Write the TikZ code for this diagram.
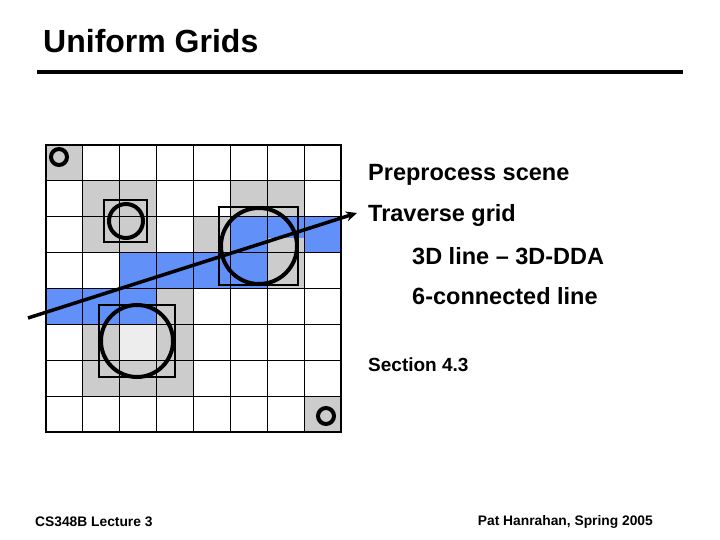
\documentclass[tikz,border=0pt]{standalone}
\usepackage{fontspec}
\setmainfont{Liberation Sans}
\usetikzlibrary{arrows.meta}
\definecolor{rayblue}{RGB}{96,144,248}
\begin{document}
\begin{tikzpicture}[x=1pt,y=-1pt,
  txt/.style={anchor=west,inner sep=0pt,font=\bfseries\fontsize{23.5}{27}\selectfont},
  gcell/.style={fill=black!20},
  bcell/.style={fill=rayblue},
  obj/.style={line width=4pt},
  bbox/.style={line width=2.5pt}]
\useasboundingbox (0,0) rectangle (720,540);
\def\cw{36.9}\def\ch{35.9}
\def\cell#1#2#3{\fill[#3] ({46+#1*\cw},{145+#2*\ch}) rectangle ++(\cw,\ch);}
% gray cells
\foreach \c/\r in {0/0,1/1,2/1,5/1,6/1,1/2,2/2,4/2,6/3,3/4,1/5,3/5,1/6,2/6,3/6,7/7}{\cell{\c}{\r}{gcell}}
\cell{2}{5}{fill=black!7}
\cell{6}{2}{gcell}
% blue cells
\foreach \c/\r in {5/2,7/2,2/3,3/3,4/3,5/3,0/4,1/4,2/4}{\cell{\c}{\r}{bcell}}
\fill[bcell] ({46+6*\cw},{145+2*\ch}) rectangle ++(\cw,0.6*\ch);
% grid
\foreach \i in {1,...,7}{
  \draw[line width=0.9pt] ({46+\i*\cw},145) -- ({46+\i*\cw},432.2);
  \draw[line width=0.9pt] (46,{145+\i*\ch}) -- (341.2,{145+\i*\ch});
}
\draw[line width=2.5pt] (46,145) rectangle (341.2,432.2);
% objects
\draw[obj] (59,157) circle (8);
\draw[obj] (326,416) circle (8);
\draw[bbox] (104,200) rectangle (147,242);
\draw[obj] (126,221) circle (17);
\draw[bbox] (219,207) rectangle (298,285);
\draw[obj] (259,246) circle (38);
\draw[bbox] (99,305) rectangle (175,377);
\draw[obj] (137,341) circle (36);
% ray
\coordinate (r0) at (28,318);
\coordinate (r1) at (357,213);
\draw[line width=3.5pt,-{Stealth[length=11pt,width=10pt]}] (r0) -- (r1);
% title
\node[anchor=west,inner sep=0pt,font=\bfseries\fontsize{32}{36}\selectfont] (title) at (43,41) {Uniform Grids};
\draw[line width=4pt] (37,72) -- (683,72);
\node[txt] (t1) at (368,175) {Preprocess scene};
\node[txt] (t2) at (368,215) {Traverse grid};
\node[txt] (t3) at (412,256) {3D line – 3D-DDA};
\node[txt] (t4) at (412,296) {6-connected line};
\node[txt,font=\bfseries\fontsize{19}{22}\selectfont] (t5) at (368,365) {Section 4.3};
\node[anchor=west,inner sep=0pt,font=\bfseries\fontsize{13.8}{16}\selectfont] (f1) at (35,522) {CS348B Lecture 3};
\node[anchor=east,inner sep=0pt,font=\bfseries\fontsize{13.8}{16}\selectfont] (f2) at (653,522) {Pat Hanrahan, Spring 2005};
\end{tikzpicture}
\end{document}
